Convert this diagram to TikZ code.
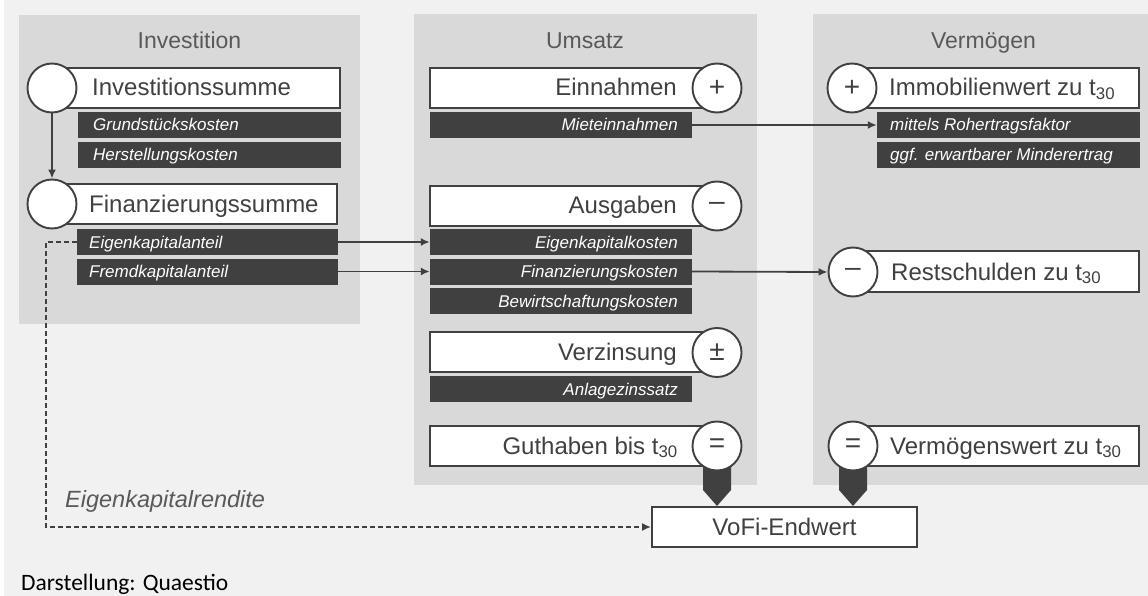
\documentclass[tikz,border=0pt]{standalone}
\usepackage{fontspec}
\setmainfont{Liberation Sans}
\newfontfamily\footfont{Carlito}
\usetikzlibrary{arrows.meta}
\definecolor{bg}{HTML}{F1F1F1}
\definecolor{panel}{HTML}{D9D9D9}
\definecolor{dk}{HTML}{404040}
\definecolor{tgray}{HTML}{595959}
\newcommand\myfs[1]{\fontsize{#1}{#1}\selectfont}
\begin{document}
\begin{tikzpicture}[x=1pt,y=-1pt,
 panelbox/.style={fill=panel,draw=none},
 wbox/.style={rectangle,draw=dk,fill=white,line width=1.9pt,inner sep=0pt,minimum height=40pt},
 dbar/.style={rectangle,fill=dk,draw=none,inner sep=0pt,minimum height=26pt},
 sym/.style={circle,draw=dk,fill=white,line width=1.9pt,minimum size=49pt,inner sep=0pt,font=\myfs{28},text=dk},
 lbl/.style={inner sep=0pt,font=\myfs{24},text=dk},
 sublbl/.style={inner sep=0pt,font=\myfs{17}\itshape,text=white},
 ttl/.style={inner sep=0pt,font=\myfs{23},text=tgray},
 conn/.style={draw=dk,line width=1.8pt,-{Latex[length=9pt,width=8pt]}},
 ptr/.style={fill=dk,draw=none}
]
% background
\fill[white] (0,0) rectangle (1148,596);
\fill[bg] (4,0) rectangle (1148,596);
\useasboundingbox (0,0) rectangle (1148,596);
% panels
\path[panelbox] (19,15) rectangle (360,324);
\path[panelbox] (414,14) rectangle (757,485);
\path[panelbox] (813,14) rectangle (1148,485);
% titles
\node[ttl,anchor=base] (t1) at (189.5,49) {Investition};
\node[ttl,anchor=base] (t2) at (585,49) {Umsatz};
\node[ttl,anchor=base] (t3) at (983.5,49) {Vermögen};

% ---- Investition
\node[wbox,minimum width=288pt] (b1) at (196,88) {};
\node[wbox,minimum width=285pt] (b2) at (194.5,204) {};
\node[lbl,anchor=base west] (l1) at (92,96) {Investitionssumme};
\node[lbl,anchor=base west] (l2) at (89,212) {Finanzierungssumme};
\node[dbar,minimum width=263pt] (d1) at (209.5,125) {};
\node[dbar,minimum width=263pt] (d2) at (209.5,155) {};
\node[dbar,minimum width=261pt] (d3) at (207.5,242) {};
\node[dbar,minimum width=261pt] (d4) at (207.5,271.5) {};
\node[sublbl,anchor=base west] (s1) at (93,131) {Grundstückskosten};
\node[sublbl,anchor=base west] (s2) at (93,161) {Herstellungskosten};
\node[sublbl,anchor=base west] (s3) at (89,248) {Eigenkapitalanteil};
\node[sublbl,anchor=base west] (s4) at (89,277.5) {Fremdkapitalanteil};

% ---- Umsatz
\node[wbox,minimum width=287pt] (b3) at (573.5,88) {};
\node[wbox,minimum width=287pt] (b4) at (573.5,206) {};
\node[wbox,minimum width=287pt] (b5) at (573.5,352) {};
\node[wbox,minimum width=287pt] (b6) at (573.5,446) {};
\node[lbl,anchor=base east] (l3) at (677,96) {Einnahmen};
\node[lbl,anchor=base east] (l4) at (677,214) {Ausgaben};
\node[lbl,anchor=base east] (l5) at (677,360) {Verzinsung};
\node[lbl,anchor=base east] (l6) at (678,454) {Guthaben bis t\textsubscript{30}};
\node[dbar,minimum width=262pt] (d5) at (561,125) {};
\node[dbar,minimum width=262pt] (d6) at (561,242) {};
\node[dbar,minimum width=262pt] (d7) at (561,271.5) {};
\node[dbar,minimum width=262pt] (d8) at (561,301) {};
\node[dbar,minimum width=262pt] (d9) at (561,389) {};
\node[sublbl,anchor=base east] (s5) at (678,131) {Mieteinnahmen};
\node[sublbl,anchor=base east] (s6) at (678,248) {Eigenkapitalkosten};
\node[sublbl,anchor=base east] (s7) at (678,277.5) {Finanzierungskosten};
\node[sublbl,anchor=base east] (s8) at (678,307) {Bewirtschaftungskosten};
\node[sublbl,anchor=base east] (s9) at (678,395) {Anlagezinssatz};

% ---- Vermögen
\node[wbox,minimum width=287pt] (b7) at (995.5,88) {};
\node[wbox,minimum width=287pt,minimum height=41pt] (b8) at (995.5,271.5) {};
\node[wbox,minimum width=287pt] (b9) at (995.5,446) {};
\node[lbl,anchor=base west] (l7) at (889,96) {Immobilienwert zu t\textsubscript{30}};
\node[lbl,anchor=base west] (l8) at (891,280) {Restschulden zu t\textsubscript{30}};
\node[lbl,anchor=base west] (l9) at (890,454) {Vermögenswert zu t\textsubscript{30}};
\node[dbar,minimum width=263pt] (d10) at (1008.5,125) {};
\node[dbar,minimum width=263pt] (d11) at (1008.5,155) {};
\node[sublbl,anchor=base west] (s10) at (890,131) {mittels Rohertragsfaktor};
\node[sublbl,anchor=base west] (s11) at (890,161) {ggf. erwartbarer Minderertrag};

% ---- VoFi
\node[wbox,minimum width=265pt] (vofi) at (784.5,527) {};
\node[lbl,anchor=base] (lv) at (784.5,535) {VoFi-Endwert};

% pointers
\fill[ptr] (703,446) -- (731,446) -- (731,490) -- (717,506) -- (703,490) -- cycle;
\fill[ptr] (839,446) -- (867,446) -- (867,490) -- (853,506) -- (839,490) -- cycle;

% circles
\node[sym] (c1) at (52,88) {};
\node[sym] (c2) at (52,204) {};
\node[sym] (c3) at (717,88) {+};
\node[sym] (c4) at (717,206) {–};
\node[sym] (c5) at (717,352.5) {±};
\node[sym] (c6) at (717,446) {=};
\node[sym] (c7) at (852,88) {+};
\node[sym] (c8) at (853,272) {–};
\node[sym] (c9) at (853,446) {=};

% connectors
\draw[conn] (c1.south) -- (c2.north);
\draw[conn] (d3.east) -- (d6.west);
\draw[conn] (d4.east) -- (d7.west);
\draw[conn] (d5.east) -- (d10.west);
\draw[conn] (d7.east) -- (c8.west);
\draw[draw=dk,line width=1.7pt,dash pattern=on 5pt off 3pt,-{Latex[length=9pt,width=8pt]}]
  (d3.west) -- ++(-31,0) |- (vofi.west);

% labels
\node[inner sep=0pt,anchor=base west,font=\myfs{23.5}\itshape,text=tgray] (ekr) at (65,507) {Eigenkapitalrendite};
\node[inner sep=0pt,anchor=base west,font=\footfont\myfs{23.5},text=black] (foot) at (21,590) {Darstellung: Quaestio};
\end{tikzpicture}
\end{document}
